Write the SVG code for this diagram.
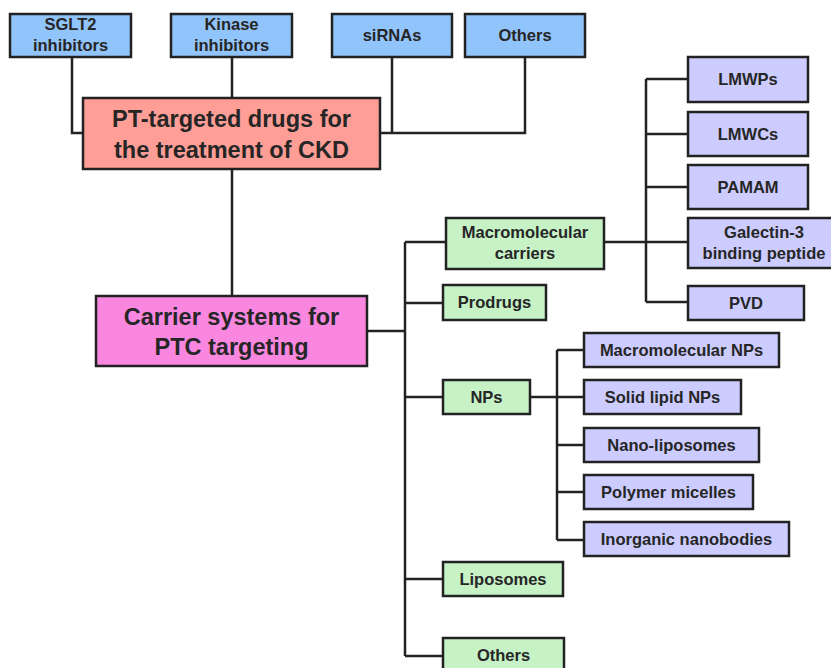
<svg xmlns="http://www.w3.org/2000/svg" width="831" height="668" viewBox="0 0 831 668">
<style>
.box{stroke:#222;stroke-width:2.5}
.blue{fill:#92C4FC}
.salmon{fill:#FF9E96}
.mag{fill:#F987E0}
.green{fill:#C6F2C6}
.purple{fill:#CCCCFF}
text{font-family:"Liberation Sans",Arial,sans-serif;font-weight:bold;fill:#262626;text-anchor:middle}
.s{font-size:16.5px}
.l{font-size:23.5px}
.c{fill:none;stroke:#222;stroke-width:2.5}
</style>
<rect width="831" height="668" fill="#fff"/>
<g id="connectors">
<path class="c" d="M72 57V133H83M232 57V98M392 57V133M525 57V133H380"/>
<path class="c" d="M232 169V296"/>
<path class="c" d="M367 331H405M405 242V656M405 242H446M405 303H443M405 397H443M405 579H443M405 656H443"/>
<path class="c" d="M604 242H646M646 79V302M646 79H688M646 134H688M646 187H688M646 242H688M646 302H688"/>
<path class="c" d="M530 397H557M557 350V540M557 350H584M557 397H584M557 445H584M557 492H584M557 540H584"/>
</g>
<g id="sglt2"><rect class="box blue" x="10" y="14" width="121" height="43"/><text class="s" x="70.5" y="30">SGLT2</text><text class="s" x="70.5" y="51">inhibitors</text></g>
<g id="kinase"><rect class="box blue" x="171" y="14" width="121" height="43"/><text class="s" x="231.5" y="30">Kinase</text><text class="s" x="231.5" y="51">inhibitors</text></g>
<g id="sirnas"><rect class="box blue" x="332" y="14" width="120" height="43"/><text class="s" x="392" y="41">siRNAs</text></g>
<g id="others-top"><rect class="box blue" x="465" y="14" width="120" height="43"/><text class="s" x="525" y="41">Others</text></g>
<g id="pt-drugs"><rect class="box salmon" x="83" y="98" width="297" height="71"/><text class="l" x="231.5" y="127">PT-targeted drugs for</text><text class="l" x="231.5" y="158">the treatment of CKD</text></g>
<g id="carrier"><rect class="box mag" x="96" y="296" width="271" height="70"/><text class="l" x="231.5" y="325">Carrier systems for</text><text class="l" x="231.5" y="355">PTC targeting</text></g>
<g id="macro-carriers"><rect class="box green" x="446" y="218" width="158" height="51"/><text class="s" x="525" y="238">Macromolecular</text><text class="s" x="525" y="259">carriers</text></g>
<g id="prodrugs"><rect class="box green" x="443" y="285" width="103" height="35"/><text class="s" x="494.5" y="308">Prodrugs</text></g>
<g id="nps"><rect class="box green" x="443" y="380" width="87" height="34"/><text class="s" x="486.5" y="403">NPs</text></g>
<g id="liposomes"><rect class="box green" x="443" y="562" width="120" height="34"/><text class="s" x="503" y="585">Liposomes</text></g>
<g id="others-bottom"><rect class="box green" x="443" y="638" width="121" height="40"/><text class="s" x="503.5" y="661">Others</text></g>
<g id="lmwps"><rect class="box purple" x="688" y="57" width="120" height="45"/><text class="s" x="748" y="85">LMWPs</text></g>
<g id="lmwcs"><rect class="box purple" x="688" y="112" width="120" height="44"/><text class="s" x="748" y="140">LMWCs</text></g>
<g id="pamam"><rect class="box purple" x="688" y="165" width="120" height="44"/><text class="s" x="748" y="193">PAMAM</text></g>
<g id="galectin"><rect class="box purple" x="688" y="218" width="145" height="50"/><text class="s" x="764" y="238">Galectin-3</text><text class="s" x="764" y="259">binding peptide</text></g>
<g id="pvd"><rect class="box purple" x="688" y="286" width="116" height="34"/><text class="s" x="746" y="309">PVD</text></g>
<g id="macro-nps"><rect class="box purple" x="584" y="333" width="195" height="34"/><text class="s" x="681.5" y="356">Macromolecular NPs</text></g>
<g id="solid-lipid"><rect class="box purple" x="584" y="380" width="157" height="34"/><text class="s" x="662.5" y="403">Solid lipid NPs</text></g>
<g id="nano-lipo"><rect class="box purple" x="584" y="428" width="175" height="34"/><text class="s" x="671.5" y="451">Nano-liposomes</text></g>
<g id="micelles"><rect class="box purple" x="584" y="475" width="169" height="34"/><text class="s" x="668.5" y="498">Polymer micelles</text></g>
<g id="inorganic"><rect class="box purple" x="584" y="522" width="205" height="34"/><text class="s" x="686.5" y="545">Inorganic nanobodies</text></g>
</svg>
